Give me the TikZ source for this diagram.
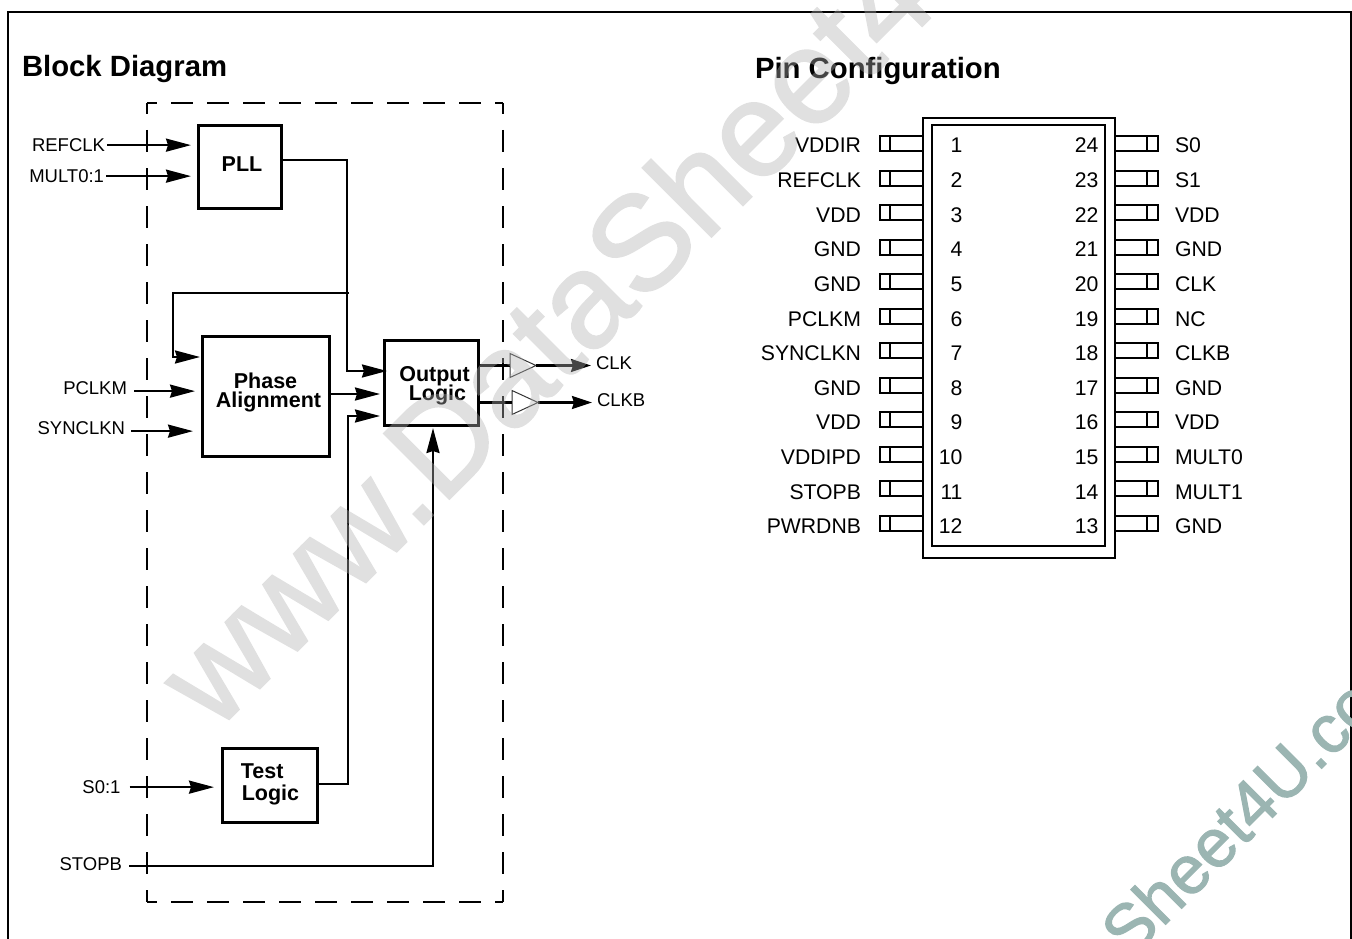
\documentclass[tikz,border=0pt]{standalone}
\usepackage{fontspec}
\setmainfont{Liberation Sans}
\newfontfamily\wmfont[FakeBold=1.6]{Liberation Sans}
\usetikzlibrary{arrows.meta,shapes.geometric}
\newcommand\offtext[3]{\hspace*{#1}\raisebox{#2}[0pt][0pt]{\makebox[0pt]{#3}}\hspace*{-#1}}
\definecolor{wmgray}{gray}{0.69}
\definecolor{wmteal}{HTML}{9BB5B2}
\tikzset{
  blk/.style={draw=black,line width=3pt,inner sep=0pt,outer sep=0pt,align=center,font=\fontsize{21.5}{20}\selectfont\bfseries},
  lbl/.style={inner sep=0pt,outer sep=0pt,font=\fontsize{18.5}{20}\selectfont},
  pinlbl/.style={inner sep=0pt,outer sep=0pt,font=\fontsize{21.2}{21}\selectfont},
  heading/.style={inner sep=0pt,outer sep=0pt,anchor=base west,font=\fontsize{29.3}{30}\selectfont\bfseries},
  wire/.style={line width=2.3pt,line join=miter},
  arr/.style={wire,-{Stealth[length=25pt,width=13pt,inset=2pt]}},
  arrs/.style={wire,-{Stealth[length=20pt,width=13pt,inset=2pt]}},
  buf/.style={draw=black!80,line width=1pt,shape=isosceles triangle,isosceles triangle stretches,minimum width=24pt,minimum height=26pt,inner sep=0pt,outer sep=0pt},
  pinbox/.style={draw=black,line width=2pt,minimum width=43pt,minimum height=15pt,inner sep=0pt,outer sep=0pt},
  vdash/.style={line width=2.2pt,dash pattern=on 22pt off 16pt,dash phase=11pt},
  hdash/.style={line width=2.2pt,dash pattern=on 22pt off 14pt,dash phase=12pt},
}
\begin{document}
\begin{tikzpicture}[x=1pt,y=-1pt]
\useasboundingbox (0,0) rectangle (1352,939);
\begin{scope}
\clip (0,0) rectangle (1352,939);
\coordinate (fbl) at (8,945);
\coordinate (ftl) at (8,12);
\coordinate (ftr) at (1351,12);
\coordinate (fbr) at (1351,945);
\draw[line width=2pt] (fbl) -- (ftl) -- (ftr) -- (fbr);

\node[heading] (blocktitle) at (22,77) {Block Diagram};
\node[heading] (pintitle) at (755,79) {Pin Configuration};

% dashed boundary
\coordinate (da) at (147,103);
\coordinate (dc) at (503,103);
\coordinate (db) at (503,902);
\coordinate (dd) at (147,902);
\draw[vdash] (da) -- (dd);
\draw[vdash] (dc) -- (db);
\draw[hdash] (da) -- (dc);
\draw[hdash] (dd) -- (db);

% blocks
\node[blk,minimum width=83pt,minimum height=82pt] (pll) at (239.5,167) {\offtext{2.5pt}{-5pt}{PLL}};
\node[blk,minimum width=127pt,minimum height=120pt] (phase) at (265.5,396) {\offtext{3pt}{-2.5pt}{\begin{tabular}{@{}c@{}}Phase\hspace*{6pt}\\[-2pt]Alignment\end{tabular}}};
\node[blk,minimum width=94pt,minimum height=85pt] (output) at (431,382.5) {\offtext{3.5pt}{-9pt}{\begin{tabular}{@{}c@{}}Output\\[-3pt]\hspace*{6pt}Logic\end{tabular}}};
\node[blk,minimum width=95pt,minimum height=74pt] (test) at (269.5,785) {\offtext{0.5pt}{-5pt}{\begin{tabular}{@{}l@{}}Test\\\hspace*{1pt}Logic\end{tabular}}};

% labels
\node[lbl,anchor=base east] (refclk) at (105,151.5) {REFCLK};
\node[lbl,anchor=base east] (mult) at (104,182.5) {MULT0:1};
\node[lbl,anchor=base east] (pclkm) at (127,394.5) {PCLKM};
\node[lbl,anchor=base east] (synclkn) at (125,434.5) {SYNCLKN};
\node[lbl,anchor=base east] (szero) at (120.5,793.5) {S0:1};
\node[lbl,anchor=base east] (stopb) at (122,870.5) {STOPB};
\node[lbl,anchor=base west] (clk) at (596,369.5) {CLK};
\node[lbl,anchor=base west] (clkb) at (597,406.5) {CLKB};

% input connectors
\draw[arr] ([shift={(2,0)}]refclk.east) -- ([shift={(-7,0)}]pll.west |- refclk.east);
\draw[arr] ([shift={(2,0)}]mult.east) -- ([shift={(-7,0)}]pll.west |- mult.east);
\draw[arr] ([shift={(7,3)}]pclkm.east) -- ([shift={(-7,3)}]phase.west |- pclkm.east);
\draw[arr] ([shift={(6,3)}]synclkn.east) -- ([shift={(-9,3)}]phase.west |- synclkn.east);
\draw[arr] ([shift={(9,0)}]szero.east) -- ([shift={(-8,0)}]test.west |- szero.east);

% internal connectors
\coordinate (pllbend) at (347,160);
\coordinate (pllin) at (387,371);
\coordinate (fbstart) at (349,293);
\coordinate (fbcorner) at (173,293);
\coordinate (fbend) at (200,357);
\coordinate (testbend) at (348,784);
\coordinate (testin) at (380,416);
\coordinate (stopcorner) at (433,866);
\draw[arr] (pll.east |- pllbend) -- (pllbend) -- (pllbend |- pllin) -- (pllin);
\draw[arr] (fbstart) -- (fbcorner) -- (fbcorner |- fbend) -- (fbend);
\draw[arr] (phase.east |- 0,394) -- ([shift={(-4,0)}]output.west |- 0,394);
\draw[arr] (test.east |- testbend) -- (testbend) -- (testbend |- testin) -- (testin);
\draw[arr] ([shift={(7,0)}]stopb.east |- stopcorner) -- (stopcorner) -- ([shift={(2,3)}]output.south);

% buffers
\node[buf,anchor=west] (buf1) at (510,365.5) {};
\node[buf,anchor=west] (buf2) at (512,402.5) {};
\draw[wire] (output.east |- buf1.west) -- (buf1.west);
\draw[wire] (output.east |- buf2.west) -- (buf2.west);
\draw[arrs] (buf1.apex) -- ([shift={(-5,0)}]clk.west |- buf1.apex);
\draw[arrs] (buf2.apex) -- ([shift={(-5,0)}]clkb.west |- buf2.apex);

% chip
\node[draw=black,line width=2pt,minimum width=192pt,minimum height=440pt,inner sep=0pt,outer sep=0pt] (chip) at (1019,338) {};
\node[draw=black,line width=2pt,minimum width=173pt,minimum height=421pt,inner sep=0pt,outer sep=0pt] (chipinner) at (1018.5,335.5) {};

\foreach \lab [count=\i from 0] in {VDDIR,REFCLK,VDD,GND,GND,PCLKM,SYNCLKN,GND,VDD,VDDIPD,STOPB,PWRDNB}{
  \pgfmathsetmacro\py{round(143+34.5*\i)+0.5}
  \pgfmathsetmacro\ty{153.0+34.6*\i}
  \pgfmathtruncatemacro\num{\i+1}
  \node[pinbox] (lp\num) at (901,\py) {};
  \draw[line width=2pt] ([xshift=10pt]lp\num.north west) -- ([xshift=10pt]lp\num.south west);
  \node[pinlbl,anchor=base east] (ll\num) at (861,\ty) {\lab};
  \node[pinlbl,anchor=base east] (ln\num) at (962.5,\ty) {\num};
}
\foreach \lab [count=\i from 0] in {S0,S1,VDD,GND,CLK,NC,CLKB,GND,VDD,MULT0,MULT1,GND}{
  \pgfmathsetmacro\py{round(143+34.5*\i)+0.5}
  \pgfmathsetmacro\ty{153.0+34.6*\i}
  \pgfmathtruncatemacro\num{24-\i}
  \node[pinbox] (rp\num) at (1136.5,\py) {};
  \draw[line width=2pt] ([xshift=-11pt]rp\num.north east) -- ([xshift=-11pt]rp\num.south east);
  \node[pinlbl,anchor=base west] (rl\num) at (1175,\ty) {\lab};
  \node[pinlbl,anchor=base east] (rn\num) at (1098.5,\ty) {\num};
}

% watermarks
\begin{scope}[transparency group,opacity=0.39]
\node[inner sep=0pt,anchor=base west,rotate=45,text=wmgray,font=\fontsize{134}{134}\selectfont\wmfont] (wm1) at (215,733) {www.DataSheet4};
\end{scope}
\node[inner sep=0pt,anchor=base west,rotate=45,text=wmteal,font=\fontsize{68}{68}\selectfont\wmfont] (wm2) at (1130,960) {Sheet4U.co};
\end{scope}
\end{tikzpicture}
\end{document}
